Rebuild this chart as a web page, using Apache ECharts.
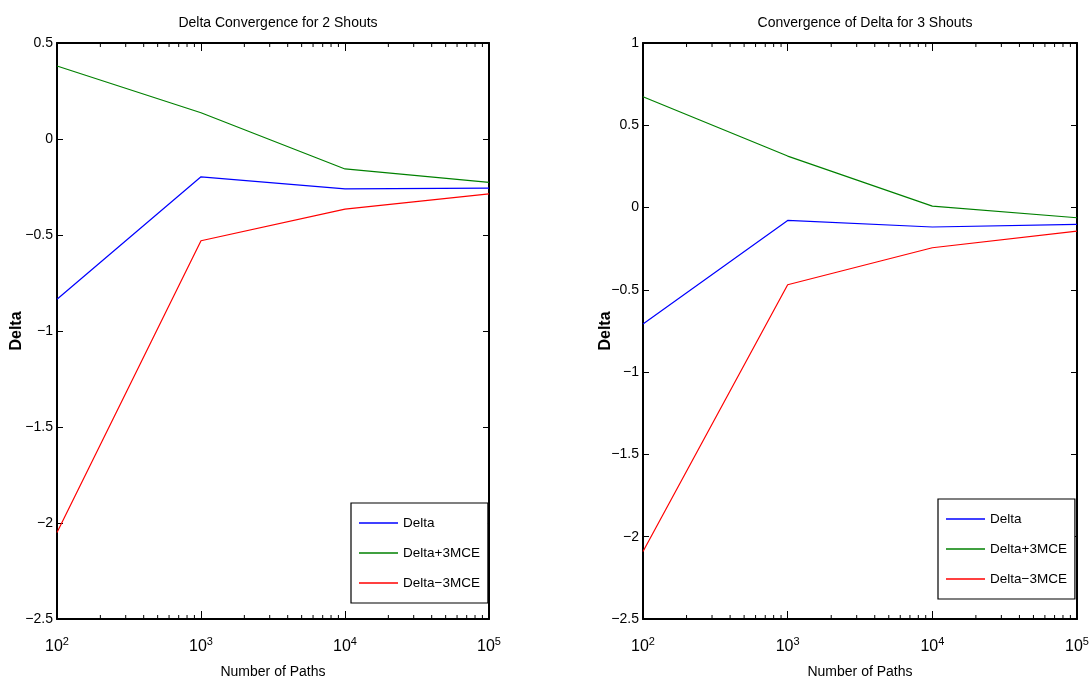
<!DOCTYPE html>
<html>
<head>
<meta charset="utf-8">
<script src="https://cdn.jsdelivr.net/npm/echarts@6/dist/echarts.min.js"></script>
<style>
  html, body { margin: 0; padding: 0; background: #fff; }
  #main { width: 1092px; height: 688px; }
</style>
</head>
<body>
<div id="main"></div>
<script>
// data
const paths = [100, 1000, 10000, 100000];
const delta2 = [-0.835, -0.197, -0.26, -0.256];
const plus2 = [0.38, 0.137, -0.156, -0.226];
const minus2 = [-2.05, -0.53, -0.365, -0.286];
const delta3 = [-0.708, -0.078, -0.118, -0.102];
const plus3 = [0.673, 0.313, 0.009, -0.062];
const minus3 = [-2.09, -0.469, -0.244, -0.143];
const names = ["Delta", "Delta+3MCE", "Delta\u22123MCE"];
const titles = ["Delta Convergence for 2 Shouts", "Convergence of Delta for 3 Shouts"];
const minorTicks = [200, 300, 400, 500, 600, 700, 800, 900,
  2000, 3000, 4000, 5000, 6000, 7000, 8000, 9000,
  20000, 30000, 40000, 50000, 60000, 70000, 80000, 90000];

const font = "'Liberation Sans', Arial, sans-serif";
const colors = ["#0000ff", "#008000", "#ff0000"];
const yRanges = [[-2.5, 0.5], [-2.5, 1]];
const gridPos = [{ left: 57, right: 603 }, { left: 643, right: 15 }];

const chart = echarts.init(document.getElementById("main"));

const pair = (ys) => paths.map((p, i) => [p, ys[i]]);
const minus = (s) => String(s).replace("-", "\u2212");

let xAxes = [], yAxes = [], series = [], legends = [], titleList = [];
[0, 1].forEach((g) => {
  const [ymin, ymax] = yRanges[g];
  const axisLine = { show: true, onZero: false, lineStyle: { color: "#000", width: 2 } };
  xAxes.push({
    type: "log", logBase: 10, gridIndex: g, min: 100, max: 100000, position: "bottom",
    name: "Number of Paths", nameLocation: "middle", nameGap: 46, nameMoveOverlap: false,
    nameTextStyle: { fontFamily: font, fontSize: 14, color: "#000" },
    axisLine,
    axisTick: { inside: true, length: 8, lineStyle: { color: "#000" } },
    splitLine: { show: false },
    axisLabel: {
      margin: 17, color: "#000",
      formatter: (v) => "10{sup|" + Math.round(Math.log10(v)) + "}",
      rich: {
        sup: { fontFamily: font, fontSize: 11, color: "#000", verticalAlign: "top", padding: [0, 0, 10, 0] }
      },
      fontFamily: font, fontSize: 16
    }
  });
  xAxes.push({
    type: "log", logBase: 10, gridIndex: g, min: 100, max: 100000, position: "top",
    axisLine,
    axisTick: { inside: true, length: 8, lineStyle: { color: "#000" } },
    axisLabel: { show: false }, splitLine: { show: false }
  });
  yAxes.push({
    type: "value", gridIndex: g, min: ymin, max: ymax, interval: 0.5, position: "left",
    name: "Delta", nameLocation: "middle", nameRotate: 90, nameGap: g === 0 ? 32 : 29,
    nameMoveOverlap: false,
    nameTextStyle: { fontFamily: font, fontWeight: "bold", fontSize: 16, color: "#000" },
    axisLine,
    axisTick: { inside: true, length: 6, lineStyle: { color: "#000" } },
    splitLine: { show: false },
    axisLabel: { margin: 4, color: "#000", fontFamily: font, fontSize: 14, formatter: minus }
  });
  yAxes.push({
    type: "value", gridIndex: g, min: ymin, max: ymax, interval: 0.5, position: "right",
    axisLine,
    axisTick: { inside: true, length: 6, lineStyle: { color: "#000" } },
    axisLabel: { show: false }, splitLine: { show: false }
  });

  const sets = g === 0 ? [delta2, plus2, minus2] : [delta3, plus3, minus3];
  sets.forEach((ys, k) => {
    series.push({
      name: names[k], type: "line", xAxisIndex: g * 2, yAxisIndex: g * 2,
      data: pair(ys), symbol: "none", color: colors[k],
      lineStyle: { width: 1.2, color: colors[k] }, z: 3
    });
  });

  // minor log ticks on bottom and top edges
  series.push({
    type: "custom", xAxisIndex: g * 2, yAxisIndex: g * 2, silent: true,
    data: minorTicks.map((v) => [v, ymin]),
    encode: { x: 0, y: 1 },
    renderItem: (params, api) => {
      const v = api.value(0);
      const b = api.coord([v, ymin]);
      const t = api.coord([v, ymax]);
      return {
        type: "group",
        children: [
          { type: "line", shape: { x1: b[0], y1: b[1], x2: b[0], y2: b[1] - 4 }, style: { stroke: "#000", lineWidth: 1 } },
          { type: "line", shape: { x1: t[0], y1: t[1], x2: t[0], y2: t[1] + 4 }, style: { stroke: "#000", lineWidth: 1 } }
        ]
      };
    }
  });

  legends.push({
    data: names, orient: "vertical",
    left: g === 0 ? 351 : 938, top: g === 0 ? 503 : 499,
    padding: [11, 8, 11, 8], itemGap: 12,
    itemWidth: 39, itemHeight: 1.5, icon: "rect",
    backgroundColor: "#fff", borderColor: "#000", borderWidth: 1.2, borderRadius: 0,
    selectedMode: false,
    textStyle: { fontFamily: font, fontSize: 13.5, color: "#000", lineHeight: 18 }
  });

  titleList.push({
    text: titles[g], left: g === 0 ? 273 : 860, top: 11, textAlign: "center",
    textStyle: { fontFamily: font, fontSize: 14, fontWeight: "normal", color: "#000" }
  });
});

chart.setOption({
  animation: false,
  backgroundColor: "#fff",
  title: titleList,
  grid: gridPos.map((p) => ({ left: p.left, right: p.right, top: 43, bottom: 69, containLabel: false })),
  xAxis: xAxes,
  yAxis: yAxes,
  legend: legends,
  series: series
});
</script>
</body>
</html>
